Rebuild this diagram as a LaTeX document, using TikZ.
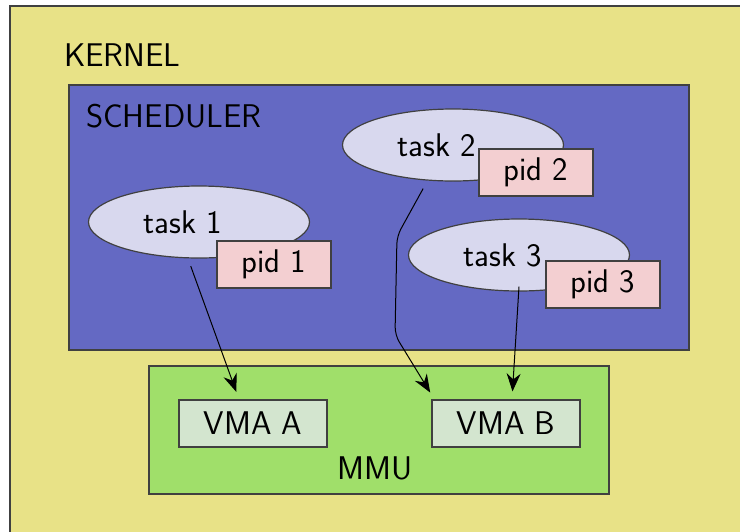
\documentclass[tikz,border=0pt]{standalone}
\usepackage{tikz}
\usetikzlibrary{shapes.geometric,arrows.meta}

\definecolor{kernelcol}{RGB}{232,226,135}
\definecolor{schedcol}{RGB}{100,105,195}
\definecolor{taskcol}{RGB}{216,216,238}
\definecolor{pidcol}{RGB}{243,207,209}
\definecolor{mmucol}{RGB}{160,223,106}
\definecolor{vmacol}{RGB}{211,229,207}

\tikzset{
  frame/.style={draw=black!75,line width=0.6pt},
  taskell/.style={ellipse,frame,fill=taskcol,minimum width=110.5pt,minimum height=36pt},
  pidbox/.style={rectangle,frame,fill=pidcol,minimum width=57pt,minimum height=23.5pt},
  vmabox/.style={rectangle,frame,fill=vmacol,minimum width=74pt,minimum height=23.5pt},
  link/.style={-{Stealth[length=9pt,width=7pt,inset=3pt]},line width=0.5pt,shorten <=4pt,shorten >=4pt}
}
\newcommand{\tasklabel}[1]{#1\hspace*{16pt}}

\begin{document}
\begin{tikzpicture}[x=0.5pt,y=-0.5pt,font=\sffamily\fontsize{16.4}{19}\selectfont]
  \useasboundingbox (0,0) rectangle (740,531);
  \fill[white] (0,0) rectangle (740,531);
  % nested areas
  \filldraw[frame,fill=kernelcol] (10,6) rectangle (760,560);
  \filldraw[frame,fill=schedcol] (69,85) rectangle (689,350);
  \filldraw[frame,fill=mmucol] (149,366) rectangle (609,494);
  \node[anchor=west] (kernel) at (57,55) {KERNEL};
  \node[anchor=west] (sched) at (79,116) {SCHEDULER};
  \node (mmu) at (375,468) {MMU};

  \node[taskell] (task1) at (199,222) {\tasklabel{task 1}};
  \node[pidbox] (pid1) at (274,264.5) {pid 1};
  \node[taskell] (task2) at (453,145) {\tasklabel{task 2}};
  \node[pidbox] (pid2) at (536,172.5) {pid 2};
  \node[taskell] (task3) at (519,255) {\tasklabel{task 3}};
  \node[pidbox] (pid3) at (603,284.5) {pid 3};

  \node[vmabox] (vmaA) at (253,423.5) {VMA A};
  \node[vmabox] (vmaB) at (506,423.5) {VMA B};

  \coordinate (bendA) at (397,236);
  \coordinate (bendB) at (395,335);
  \draw[link] ([xshift=-5.5pt]task1.south) -- ([xshift=-7pt]vmaA.north);
  \draw[link,rounded corners=4pt] ([xshift=-13pt]task2.south) -- (bendA) -- (bendB) -- ([xshift=1.5pt]vmaB.north west);
  \draw[link,shorten <=0pt] ([yshift=2.5pt]task3.south) -- ([xshift=3pt]vmaB.north);
\end{tikzpicture}
\end{document}
